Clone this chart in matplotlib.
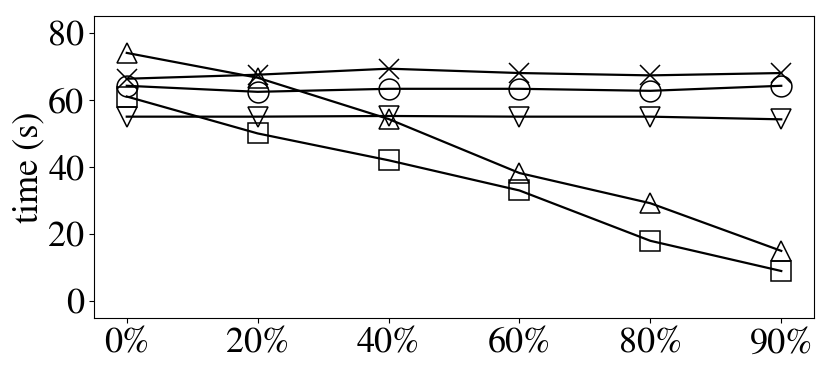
import numpy as np
import matplotlib
matplotlib.use("Agg")
import matplotlib.pyplot as plt

plt.rcParams['font.family'] = ['STIXGeneral', 'DejaVu Serif']
plt.rcParams['mathtext.fontset'] = 'stix'

# x categories
ratios = ["0%", "20%", "40%", "60%", "80%", "90%"]

# series values (seconds)
t_triangle = [74.0, 66.6, 54.3, 38.2, 29.2, 15.0]
t_square = [61.0, 50.0, 42.0, 33.0, 18.0, 9.0]
t_cross = [66.3, 67.5, 69.3, 68.0, 67.3, 68.0]
t_circle = [64.2, 62.4, 63.3, 63.3, 62.7, 64.2]
t_down = [55.0, 55.0, 55.2, 55.0, 55.0, 54.2]

fig = plt.figure(figsize=(8.3, 3.71), dpi=100)
ax = fig.add_axes([0.1133, 0.1429, 0.8674, 0.814])

x = np.arange(len(ratios))
style = dict(color='black', lw=1.6, ms=15, mfc='none', mew=1.1)
ax.plot(x, t_cross, marker='x', **style)
ax.plot(x, t_circle, marker='o', **style)
ax.plot(x, t_down, marker='v', **style)
ax.plot(x, t_triangle, marker='^', **style)
ax.plot(x, t_square, marker='s', **style)

ax.set_xticks(x)
ax.set_xticklabels(ratios)
ax.set_yticks([0, 20, 40, 60, 80])
ax.set_xlim(-0.25, 5.25)
ax.set_ylim(-5, 85)
ax.tick_params(labelsize=26)
ax.set_ylabel("time (s)", fontsize=26, labelpad=2)

fig.savefig("out.png", dpi=100)
